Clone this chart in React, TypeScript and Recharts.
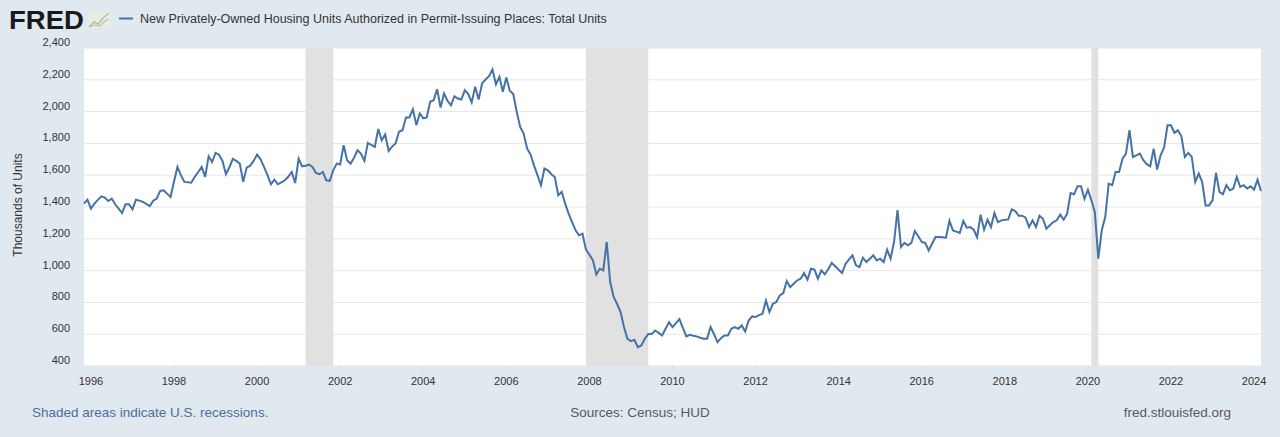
import React from "react";
import {
  LineChart,
  Line,
  XAxis,
  YAxis,
  CartesianGrid,
  ReferenceArea,
} from "recharts";

// ---- Data: monthly, seasonally adjusted annual rate, thousands of units ----
const startYear = 1995;
const startMonth = 11; // first observation: Nov 1995

const permits1995 = [1421, 1446];
const permits1996 = [1390, 1421, 1445, 1467, 1459, 1438, 1453, 1417, 1390, 1362, 1417, 1417];
const permits1997 = [1385, 1446, 1440, 1432, 1420, 1406, 1440, 1453, 1501, 1505, 1484, 1463];
const permits1998 = [1560, 1652, 1600, 1558, 1555, 1553, 1590, 1620, 1652, 1589, 1719, 1683];
const permits1999 = [1740, 1729, 1690, 1606, 1650, 1702, 1690, 1673, 1558, 1648, 1660, 1690];
const permits2000 = [1730, 1700, 1652, 1600, 1543, 1572, 1543, 1555, 1568, 1590, 1620, 1551];
const permits2001 = [1705, 1656, 1660, 1667, 1652, 1614, 1606, 1620, 1568, 1564, 1631, 1673];
const permits2002 = [1667, 1789, 1694, 1673, 1710, 1757, 1736, 1690, 1803, 1790, 1778, 1891];
const permits2003 = [1820, 1856, 1753, 1780, 1799, 1873, 1883, 1963, 1963, 2015, 1915, 1988];
const permits2004 = [1957, 1963, 2062, 2072, 2141, 2026, 2114, 2068, 2040, 2097, 2082, 2076];
const permits2005 = [2135, 2110, 2057, 2156, 2076, 2177, 2202, 2223, 2265, 2171, 2219, 2125];
const permits2006 = [2215, 2131, 2110, 1999, 1904, 1862, 1768, 1730, 1660, 1600, 1537, 1642];
const permits2007 = [1631, 1606, 1589, 1474, 1495, 1421, 1358, 1305, 1253, 1222, 1232, 1132];
const permits2008 = [1100, 1065, 976, 1012, 1001, 1180, 928, 834, 790, 739, 644, 571];
const permits2009 = [556, 565, 518, 529, 571, 602, 602, 623, 608, 592, 634, 676];
const permits2010 = [645, 670, 695, 640, 586, 596, 590, 586, 578, 571, 571, 645];
const permits2011 = [600, 550, 575, 592, 592, 634, 645, 634, 655, 617, 686, 712];
const permits2012 = [708, 720, 728, 812, 739, 791, 802, 844, 859, 934, 896, 917];
const permits2013 = [938, 949, 985, 943, 1012, 1006, 949, 1001, 976, 1010, 1048, 1027];
const permits2014 = [1005, 985, 1043, 1070, 1096, 1033, 1022, 1081, 1054, 1075, 1096, 1064];
const permits2015 = [1075, 1054, 1132, 1075, 1180, 1380, 1148, 1174, 1159, 1174, 1249, 1216];
const permits2016 = [1180, 1174, 1127, 1170, 1211, 1211, 1210, 1207, 1312, 1253, 1245, 1237];
const permits2017 = [1312, 1270, 1274, 1257, 1210, 1352, 1257, 1320, 1274, 1362, 1305, 1316];
const permits2018 = [1320, 1322, 1385, 1375, 1345, 1345, 1333, 1274, 1316, 1274, 1345, 1326];
const permits2019 = [1264, 1285, 1305, 1316, 1352, 1320, 1358, 1488, 1480, 1530, 1530, 1452];
const permits2020 = [1509, 1442, 1368, 1075, 1253, 1337, 1547, 1537, 1620, 1620, 1704, 1736];
const permits2021 = [1883, 1715, 1725, 1736, 1694, 1669, 1656, 1767, 1635, 1725, 1774, 1914];
const permits2022 = [1914, 1866, 1883, 1845, 1715, 1740, 1715, 1558, 1610, 1558, 1410, 1410];
const permits2023 = [1442, 1614, 1495, 1480, 1537, 1505, 1516, 1589, 1526, 1537, 1516, 1530];
const permits2024 = [1509, 1572, 1501];

const allPermits = [
  ...permits1995, ...permits1996, ...permits1997, ...permits1998, ...permits1999,
  ...permits2000, ...permits2001, ...permits2002, ...permits2003, ...permits2004,
  ...permits2005, ...permits2006, ...permits2007, ...permits2008, ...permits2009,
  ...permits2010, ...permits2011, ...permits2012, ...permits2013, ...permits2014,
  ...permits2015, ...permits2016, ...permits2017, ...permits2018, ...permits2019,
  ...permits2020, ...permits2021, ...permits2022, ...permits2023, ...permits2024,
];

// Recessions (start month, end month)
const recessions = [
  { start: [2001, 3], end: [2001, 11] },
  { start: [2007, 12], end: [2009, 6] },
  { start: [2020, 2], end: [2020, 4] },
];

const xTicks = [1996, 1998, 2000, 2002, 2004, 2006, 2008, 2010, 2012, 2014, 2016, 2018, 2020, 2022, 2024];
const yTicks = [400, 600, 800, 1000, 1200, 1400, 1600, 1800, 2000, 2200, 2400];

const title = "New Privately-Owned Housing Units Authorized in Permit-Issuing Places: Total Units";
const yLabel = "Thousands of Units";
const footerLeft = "Shaded areas indicate U.S. recessions.";
const footerCenter = "Sources: Census; HUD";
const footerRight = "fred.stlouisfed.org";

const toT = (y: number, m: number) => y + (m - 1) / 12;

const data = allPermits.map((v, i) => {
  const monthIdx = startMonth - 1 + i;
  const y = startYear + Math.floor(monthIdx / 12);
  const m = (monthIdx % 12) + 1;
  return { t: toT(y, m), v };
});

const FONT = "'Liberation Sans', Arial, sans-serif";
const BG = "#e1e9f0";
const LINE = "#4572a7";
const PLOT_LEFT = 84;
const PLOT_BOTTOM = 366;

const fmt = (n: number) => n.toLocaleString("en-US");

const renderYTick = (props: any) => {
  const { y, payload } = props;
  return (
    <text
      key={`y-${payload.value}`}
      x={PLOT_LEFT - 14}
      y={Number(y) - 6}
      textAnchor="end"
      dominantBaseline="central"
      fontSize={11}
      fill="#333"
      fontFamily={FONT}
    >
      {fmt(payload.value)}
    </text>
  );
};

const renderXTick = (props: any) => {
  const { x, payload } = props;
  return (
    <g key={`x-${payload.value}`}>
      <line x1={x} x2={x} y1={PLOT_BOTTOM} y2={PLOT_BOTTOM + 4} stroke="#ccd6eb" strokeWidth={1} />
      <text
        x={x}
        y={PLOT_BOTTOM + 14.5}
        textAnchor="middle"
        dominantBaseline="central"
        fontSize={11}
        fill="#333"
        fontFamily={FONT}
      >
        {payload.value}
      </text>
    </g>
  );
};

export default function App() {
  return (
    <div
      style={{
        position: "absolute",
        left: 0,
        top: 0,
        width: 1280,
        height: 437,
        background: BG,
        fontFamily: FONT,
        overflow: "hidden",
      }}
    >
      <div style={{ position: "absolute", left: 0, top: 0 }}>
        <LineChart
          width={1280}
          height={437}
          data={data}
          margin={{ top: 48, right: 19, bottom: 41, left: 24 }}
        >
          <CartesianGrid horizontal vertical={false} stroke="#e6e6e6" fill="#ffffff" />
          <XAxis
            type="number"
            dataKey="t"
            domain={["dataMin", "dataMax"]}
            ticks={xTicks}
            height={30}
            axisLine={false}
            tickLine={false}
            tick={renderXTick}
            interval={0}
          />
          <YAxis
            type="number"
            domain={[400, 2400]}
            ticks={yTicks}
            width={60}
            axisLine={false}
            tickLine={false}
            tick={renderYTick}
            interval={0}
          />
          {recessions.map((r, i) => (
            <ReferenceArea
              key={i}
              x1={toT(r.start[0], r.start[1])}
              x2={toT(r.end[0], r.end[1])}
              fill="#e1e1e1"
              fillOpacity={1}
              stroke="none"
              ifOverflow="visible"
            />
          ))}
          <Line
            type="linear"
            dataKey="v"
            stroke={LINE}
            strokeWidth={2}
            dot={false}
            activeDot={false}
            isAnimationActive={false}
          />
        </LineChart>
      </div>
      <svg
        width={1280}
        height={437}
        style={{ position: "absolute", left: 0, top: 0, pointerEvents: "none" }}
      >
        {/* FRED logo */}
        <text
          x={9}
          y={29}
          fontSize={26}
          fontWeight={900}
          fill="#1a1a1a"
          fontFamily={FONT}
          textLength={75}
          lengthAdjust="spacingAndGlyphs"
        >
          FRED
        </text>
        <rect x={88} y={12} width={22} height={16} fill="#e8eee6" />
        <polyline points="89,27 94,22 98,24 103,18 109,13" fill="none" stroke="#a9c98f" strokeWidth={1.5} />
        <polyline points="89,27 95,25 100,26 105,21 109,19" fill="none" stroke="#b8bdb8" strokeWidth={1.2} />
        {/* legend */}
        <line x1={119} x2={133} y1={18.5} y2={18.5} stroke={LINE} strokeWidth={2} />
        <text x={140} y={22.5} fontSize={12.5} fill="#333" fontFamily={FONT}>
          {title}
        </text>
        {/* y label */}
        <text
          x={0}
          y={0}
          transform="translate(18,205) rotate(-90)"
          textAnchor="middle"
          dominantBaseline="central"
          fontSize={12}
          fill="#333"
          fontFamily={FONT}
        >
          {yLabel}
        </text>
        {/* footer */}
        <text x={32} y={412} dominantBaseline="central" fontSize={13.5} fill="#4d6d9b" fontFamily={FONT}>
          {footerLeft}
        </text>
        <text x={640} y={412} textAnchor="middle" dominantBaseline="central" fontSize={13.5} fill="#595959" fontFamily={FONT}>
          {footerCenter}
        </text>
        <text x={1231} y={412} textAnchor="end" dominantBaseline="central" fontSize={13.5} fill="#595959" fontFamily={FONT}>
          {footerRight}
        </text>
      </svg>
    </div>
  );
}
